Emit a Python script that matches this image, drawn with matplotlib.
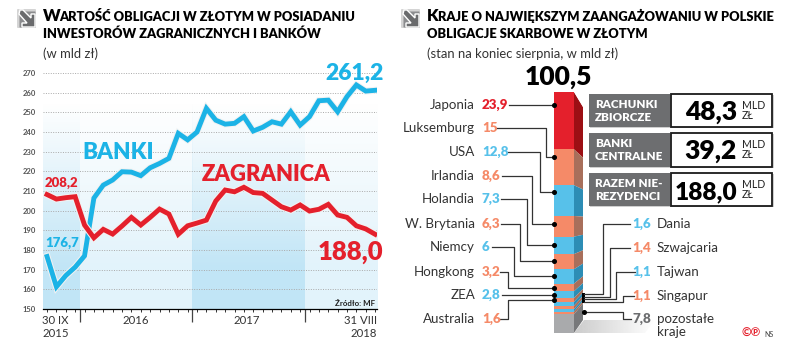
import matplotlib
matplotlib.use('Agg')
import matplotlib.pyplot as plt
import matplotlib.patheffects as pe
from matplotlib.patches import FancyBboxPatch, Polygon, Rectangle
import numpy as np

plt.rcParams['font.family'] = ['Lato', 'DejaVu Sans']

banki = [176.7, 161.3, 167, 171.3, 177, 206.4, 213, 215.6, 219.8, 219.6, 217.8, 221.8,
         224, 226.6, 239.3, 236, 240, 252, 246, 244, 244.4, 247.8, 240.5, 242.4,
         245.2, 244, 250.3, 243.5, 247.8, 255.9, 256.2, 250.3, 258, 263.9, 260.8, 261.2]
zagranica = [208.2, 205.9, 206.6, 207.1, 192.7, 186.2, 190.5, 188.1, 192.2, 196.6, 192.7, 196.6,
             200.8, 198.3, 188, 192.3, 193.7, 195.2, 204.9, 210.5, 209.6, 211.9, 209.2, 208.8,
             205.4, 202, 200.3, 202.9, 199.8, 200.7, 203.2, 197.8, 196.6, 192.3, 190.7, 188]
yticks = list(range(150, 280, 10))
year_edges = [3.5, 15.5, 27.5]

kraje_l = ['Japonia', 'Luksemburg', 'USA', 'Irlandia', 'Holandia', 'W. Brytania', 'Niemcy', 'Hongkong', 'ZEA', 'Australia']
wart_l = [23.9, 15, 12.8, 8.6, 7.3, 6.3, 6, 3.2, 2.8, 1.6]
kraje_p = ['Dania', 'Szwajcaria', 'Tajwan', 'Singapur', 'pozostałe']
wart_p = [1.6, 1.4, 1.1, 1.1, 7.8]
razem = 100.5

boxy = ['RACHUNKI\nZBIORCZE', 'BANKI\nCENTRALNE', 'RAZEM NIE-\nREZYDENCI']
boxy_wart = [48.3, 39.2, 188.0]

RED = '#e4202c'
BLUE = '#1cb3e6'
SALMON = '#f58a68'
LBLUE = '#57c1ea'
GREY = '#6d6e70'
W, H = 788, 350


def px_axes(x0, y0, x1, y1, **kw):
    return fig.add_axes([x0 / W, 1 - y1 / H, (x1 - x0) / W, (y1 - y0) / H], **kw)


def pl(v):
    return f'{v:.1f}'.replace('.', ',') if v != int(v) or v > 40 else str(int(v))


fig = plt.figure(figsize=(W / 100, H / 100), dpi=100, facecolor='white')

# left chart
ax = px_axes(43, 73, 377, 309)
ax.set_xlim(-0.43, 35.2)
ax.set_ylim(150, 270)
x = np.arange(len(banki))
edges = [ax.get_xlim()[0]] + year_edges + [ax.get_xlim()[1]]
grad = np.clip(np.linspace(0, 1, 100).reshape(-1, 1) * 1.25, 0, 1)
for i in range(4):
    col = (0.76, 0.90, 0.965) if i % 2 == 0 else (0.89, 0.955, 0.985)
    img = np.ones((100, 1, 4))
    img[:, :, :3] = col
    img[:, :, 3] = grad
    ax.imshow(img, extent=(edges[i], edges[i + 1], 150, 255), origin='upper', aspect='auto', zorder=0)
ax.set_xlim(edges[0], edges[-1])
ax.set_ylim(150, 270)
ax.set_yticks(yticks)
ax.set_yticklabels([str(t) for t in yticks], fontsize=5.5, color='#555555', fontweight='bold')
ax.grid(axis='y', ls=(0, (1, 1.5)), lw=0.7, color='#a9a9a9', zorder=1)
ax.set_xticks(x, minor=True)
ax.set_xticks(year_edges)
ax.set_xticklabels([])
ax.tick_params(axis='y', length=0, pad=5)
ax.tick_params(axis='x', which='minor', length=2, width=0.7, color='#333333')
ax.tick_params(axis='x', which='major', length=9, width=0.9, color='#444444')
for s in ['top', 'left', 'right']:
    ax.spines[s].set_visible(False)
ax.spines['bottom'].set_linewidth(0.9)
halo = [pe.Stroke(linewidth=5.0, foreground='#f2f2f2'), pe.Normal()]
ax.plot(x, banki, color=BLUE, lw=3.5, solid_joinstyle='miter', path_effects=halo, zorder=3)
ax.plot(x, zagranica, color=RED, lw=3.5, solid_joinstyle='miter', path_effects=halo, zorder=4)

# stacked bar
bar_ax = px_axes(554, 92, 574, 333)
bar_ax.set_xlim(-0.5, 0.5)
bar_ax.set_ylim(razem, 0)
bar_ax.axis('off')
wartosci = wart_l + wart_p
kolory = [RED] + [SALMON if i % 2 == 0 else LBLUE for i in range(13)] + ['#a9aaac']
ciemne = ['#9c0f14'] + ['#a86f5b' if i % 2 == 0 else '#2d8db5' for i in range(13)] + ['#77787a']
dol = 0
skos = 0.45
for v, k, c in zip(wartosci, kolory, ciemne):
    bar_ax.bar(0, v, bottom=dol, width=1, color=k, linewidth=0)
    # side face, perspective shift runs from +15 px at the top to -13 px at the bottom
    s0 = (15 - 28 * dol / razem) / 2.4
    s1 = (15 - 28 * (dol + v) / razem) / 2.4
    bar_ax.fill([0.5, 0.5 + skos, 0.5 + skos, 0.5], [dol, dol + s0, dol + v + s1, dol + v],
                color=c, lw=0, clip_on=False)
    dol += v
bar_ax.fill([0.5, 0.5 + skos, 0.5 + skos, 0.5], [0, 0, 15 / 2.4, 0], color='white', lw=0, clip_on=False)

# overlay in pixel units for all annotations
ov = fig.add_axes([0, 0, 1, 1], zorder=10)
ov.set_xlim(0, W)
ov.set_ylim(H, 0)
ov.axis('off')
ov.patch.set_alpha(0)


def t(xp, yp, s, size, color='black', weight='normal', ha='left', va='baseline', **kw):
    return ov.text(xp, yp, s, fontsize=size, color=color, fontweight=weight, ha=ha, va=va, **kw)


def ikona(x0, y0):
    ov.add_patch(FancyBboxPatch((x0 + 1, y0 + 1), 17, 17, boxstyle='round,pad=1', fc='#d4d4d4', ec='none'))
    ov.add_patch(FancyBboxPatch((x0 + 3, y0 + 3), 15, 15, boxstyle='round,pad=0.5', fc='#8b8c8e', ec='none'))
    ov.add_patch(Polygon(np.array([[3, 1], [6, 1], [14, 9], [14, 5], [18, 5], [18, 18], [5, 18], [5, 14], [10, 14], [2, 5]]) + [x0, y0],
                         fc='#6a6b6d', ec='white', lw=1))


def tytul(xp, yp, lit, reszta, dx):
    t(xp, yp, lit, 12, weight='heavy')
    t(xp + dx, yp, reszta, 9.3, weight='heavy')


ikona(17, 9)
tytul(43, 21, 'W', 'ARTOŚĆ OBLIGACJI W ZŁOTYM W POSIADANIU', 16.5)
t(43, 38.5, 'INWESTORÓW ZAGRANICZNYCH I BANKÓW', 9.3, weight='heavy')
t(43, 58, '(w mld zł)', 9.4, color='#333333')

t(384, 79.5, pl(banki[-1]), 16.5, BLUE, 'heavy', ha='right')
t(383, 260, pl(zagranica[-1]), 18.5, RED, 'heavy', ha='right')
t(45, 187, pl(zagranica[0]), 9.5, RED, 'heavy')
t(45, 247, pl(banki[0]), 9.5, BLUE, 'heavy')
t(82, 159, 'BANKI', 16.2, BLUE, 'heavy')
t(202, 181, 'ZAGRANICA', 15.8, RED, 'heavy')
t(375, 306, 'Źródło: MF', 5.8, '#222222', 'bold', ha='right')
t(42, 324, '30 IX', 8.2, '#333333')
t(42, 337, '2015', 8.2, '#333333')
t(136, 324, '2016', 8.2, '#333333', ha='center')
t(247, 324, '2017', 8.2, '#333333', ha='center')
t(377, 324, '31 VIII', 8.2, '#333333', ha='right')
t(377, 337, '2018', 8.2, '#333333', ha='right')

# right panel
ikona(401, 9)
tytul(427, 21, 'K', 'RAJE O NAJWIĘKSZYM ZAANGAŻOWANIU W POLSKIE', 11)
t(427, 38.5, 'OBLIGACJE SKARBOWE W ZŁOTYM', 9.3, weight='heavy')
t(427, 58, '(stan na koniec sierpnia, w mld zł)', 9.4, color='#333333')
t(558, 85, pl(razem), 19, 'black', 'heavy', ha='center')

# floor shadow
grad_s = np.ones((1, 100, 4))
grad_s[:, :, :3] = 0.8
grad_s[:, :, 3] = np.linspace(1, 0, 100)
im = ov.imshow(grad_s, extent=(574, 655, 333, 320), aspect='auto', zorder=0)
cien = Polygon([[574, 333], [584, 320], [655, 320], [645, 333]], transform=ov.transData, fc='none', ec='none')
ov.add_patch(cien)
im.set_clip_path(cien)
ov.set_xlim(0, W)
ov.set_ylim(H, 0)

y_l = [105, 128, 152, 176, 199, 224, 247, 272, 295, 319]
kol_l = [RED, SALMON, LBLUE, SALMON, LBLUE, SALMON, LBLUE, SALMON, LBLUE, SALMON]
for n, v, yy, k in zip(kraje_l, wart_l, y_l, kol_l):
    t(475, yy + 4, n, 9.6, '#333333', ha='right')
    t(482, yy + 4, pl(v), 9.6, k, 'heavy')

start_l = [509, 496, 507, 502, 501, 501, 492, 500, 502, 500]
lokiec_l = [546, 546, 540, 532, 527, 520, 514, 508, 530, 508]
kropka_l = [105, 157, 192, 224, 245, 261, 276, 288, 295, 300]
for s, e, yy, d in zip(start_l, lokiec_l, y_l, kropka_l):
    ov.plot([s, e, e, 554], [yy, yy, d, d], color='#333333', lw=0.9)
    ov.plot([554], [d], 'o', color='black', ms=2.6)

y_p = [224, 248, 272, 296, 319]
kol_p = [LBLUE, SALMON, LBLUE, SALMON, GREY]
for n, v, yy, k in zip(kraje_p, wart_p, y_p, kol_p):
    t(651, yy + 4, pl(v), 9.6, k, 'heavy', ha='right')
    t(657, yy + 4, n, 9.6, '#333333')
t(657, 336, 'kraje', 9.6, '#333333')

start_p = [630, 630, 635, 634, 631]
lokiec_p = [603, 610, 616, 623, 623]
kropka_p = [294, 297, 299, 302, 312]
for s, e, yy, d in zip(start_p, lokiec_p, y_p, kropka_p):
    ov.plot([s, e, e, 584], [yy, yy, d, d], color='#333333', lw=0.9)
ov.add_patch(Rectangle((582.5, 293), 2.5, 10, fc='black', ec='none'))
ov.plot([584], [312], 'o', color='black', ms=2.6)

# boxes
box_y = [94, 133, 173]
box_h = [33, 34, 33]
for b, v, yy, h in zip(boxy, boxy_wart, box_y, box_h):
    ov.add_patch(Rectangle((590, yy + 1), 184, h, fc='#cfcfcf', ec='none'))
    ov.add_patch(Rectangle((589, yy), 81, h, fc=GREY, ec='none'))
    ov.add_patch(Rectangle((671, yy), 101, h - 0.5, fc='white', ec='#1a1a1a', lw=1.3))
    a, c = b.split('\n')
    t(595, yy + 14, a, 8.4, 'white', 'heavy')
    t(595, yy + 27, c, 8.4, 'white', 'heavy')
    t(737, yy + 26, pl(v), 17.6 if v > 100 else 19, 'black', 'heavy', ha='right')
    t(742, yy + 15, 'MLD', 7.6, '#222222')
    t(742, yy + 25, 'ZŁ', 7.6, '#222222')

t(742, 337, '©℗', 8.5, '#e4202c', 'bold')
t(764, 337, 'NS', 5, '#444444')

fig.savefig('out.png', dpi=100)
